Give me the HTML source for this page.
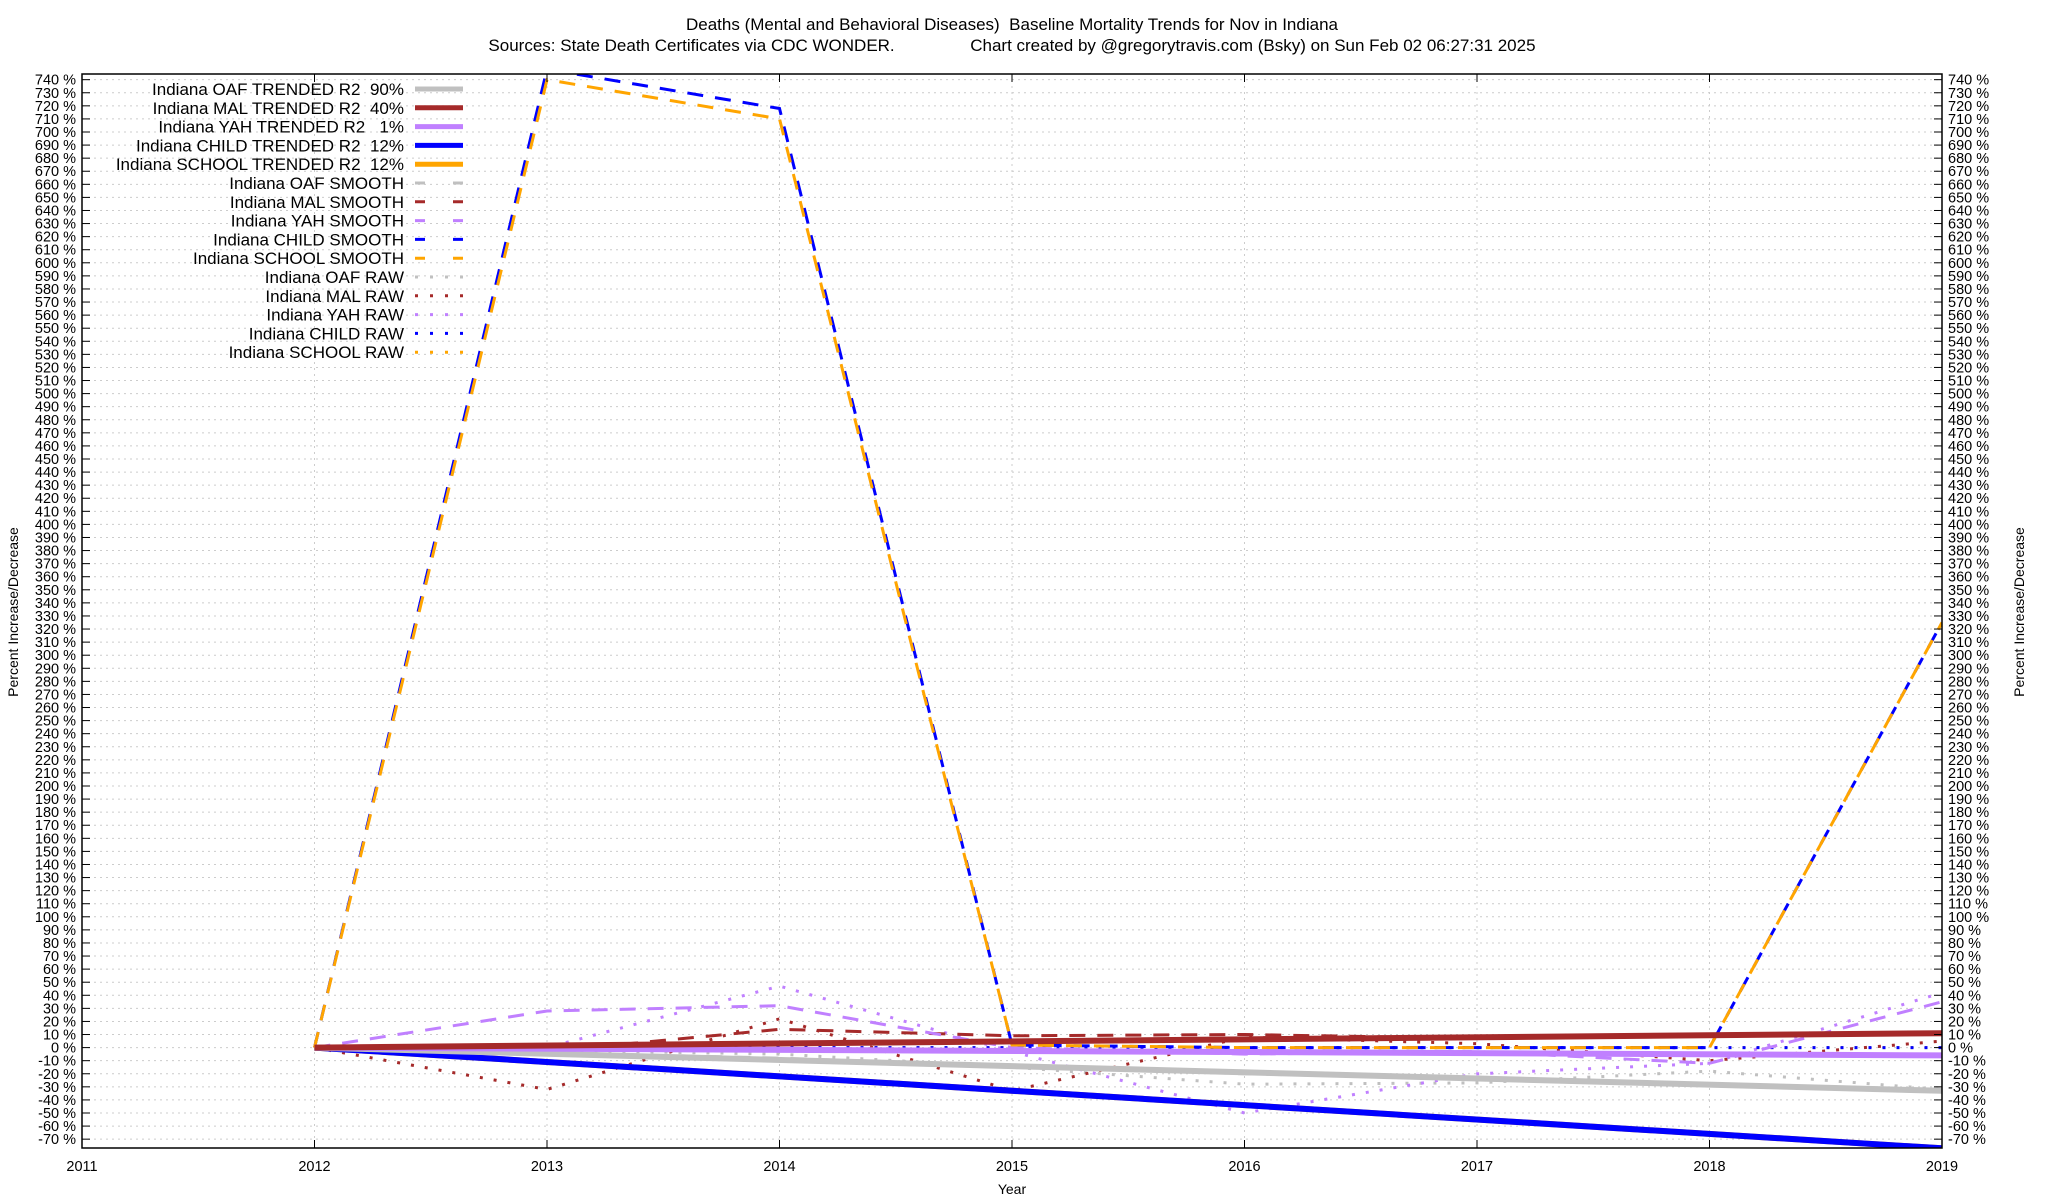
<!DOCTYPE html>
<html><head><meta charset="utf-8"><style>
body{margin:0;background:#fff;}
svg{display:block;font-family:"Liberation Sans",sans-serif;}
text{white-space:pre;}
</style></head><body>
<svg id="chart" width="2048" height="1200">
<text x="1012" y="30" font-size="17" text-anchor="middle">Deaths (Mental and Behavioral Diseases)  Baseline Mortality Trends for Nov in Indiana</text>
<text x="1012" y="51" font-size="17" text-anchor="middle">Sources: State Death Certificates via CDC WONDER.                Chart created by @gregorytravis.com (Bsky) on Sun Feb 02 06:27:31 2025</text>
<text transform="translate(18,612) rotate(-90)" font-size="14" text-anchor="middle">Percent Increase/Decrease</text>
<text transform="translate(2024,612) rotate(-90)" font-size="14" text-anchor="middle">Percent Increase/Decrease</text>
<text x="1012" y="1194" font-size="14" text-anchor="middle">Year</text>
<g id="grid"></g><g id="series"></g><g id="axes"></g><g id="legend"></g>
</svg>
<script>
const years = [2012,2013,2014,2015,2016,2017,2018,2019];
const xTicks = [2011,2012,2013,2014,2015,2016,2017,2018,2019];
const childSmooth = [0,748,718,2,0,0,0,325];
const schoolSmooth = [0,740,710,2,0,0,0,325];
const oafSmooth = [0,-4,-8,-14,-20,-24,-28,-32];
const malSmooth = [0,-3,14,9,10,7,9,11];
const yahSmooth = [0,28,32,0,-5,-3,-12,35];
const oafRaw = [0,-2,-5,-15,-28,-27,-18,-32];
const malRaw = [0,-32,22,-33,8,3,-10,5];
const yahRaw = [0,0,47,-3,-50,-20,-12,42];
const childRaw = [0,0,0,0,0,0,0,0];
const schoolRaw = [0,0,0,0,0,0,0,0];
const oafTrend = [0,-33];
const malTrend = [0,11];
const yahTrend = [0,-6];
const childTrend = [0,-77];
const schoolTrend = [0,-77];
const trendYears = [2012,2019];

const NS="http://www.w3.org/2000/svg";
const L=82,R=1942,T=74,B=1148;
function X(y){return L+(y-2011)*(R-L)/8;}
function Y(v){return 1047.6-v*1.308;}
function mk(tag,attrs,parent){const e=document.createElementNS(NS,tag);for(const k in attrs)e.setAttribute(k,attrs[k]);parent.appendChild(e);return e;}
const grid=document.getElementById('grid'),axes=document.getElementById('axes'),ser=document.getElementById('series'),leg=document.getElementById('legend');
for(let v=-70;v<=740;v+=10){
  const y=Y(v);
  const g=mk('line',{x1:L,x2:R,y1:y,y2:y,stroke:'#ccc','stroke-width':1,'stroke-dasharray':'2,4'},grid);
  
  
  mk('line',{x1:L,x2:L+8,y1:y,y2:y,stroke:'#000'},axes);
  mk('line',{x1:R-8,x2:R,y1:y,y2:y,stroke:'#000'},axes);
  const t1=mk('text',{x:L-6,y:y+5,'font-size':14.5,'text-anchor':'end'},axes);t1.textContent=v+' %';
  
  
  const t2=mk('text',{x:R+6,y:y+5,'font-size':14.5},axes);t2.textContent=v+' %';
  
  
}
xTicks.forEach(yr=>{
  const x=X(yr);
  mk('line',{x1:x,x2:x,y1:T,y2:B,stroke:'#ccc','stroke-dasharray':'2,4'},grid);
  mk('line',{x1:x,x2:x,y1:B,y2:B-8,stroke:'#000'},axes);
  mk('line',{x1:x,x2:x,y1:T,y2:T+8,stroke:'#000'},axes);
  const t=mk('text',{x:x,y:1171,'font-size':14.5,'text-anchor':'middle'},axes);t.textContent=yr;
  
  
});
const fr=mk('rect',{x:L,y:T,width:R-L,height:B-T,fill:'none',stroke:'#000','stroke-width':1.5},axes);


const clip=mk('clipPath',{id:'pc'},document.getElementById('chart'));
mk('rect',{x:L,y:T,width:R-L,height:B-T},clip);
ser.setAttribute('clip-path','url(#pc)');
const styles={
 trend:{w:6,dash:null},smooth:{w:3,dash:'16,12'},raw:{w:3,dash:'3,11'}
};
const COL={oaf:'#c0c0c0',mal:'#a52a2a',yah:'#c080ff',child:'#0000ff',school:'#ffa500'};
function draw(xs,vals,col,kind,name){
  const pts=xs.map((x,i)=>X(x).toFixed(1)+','+Y(vals[i]).toFixed(1)).join(' ');
  const a={points:pts,fill:'none',stroke:col,'stroke-width':styles[kind].w};
  if(styles[kind].dash)a['stroke-dasharray']=styles[kind].dash;
  const p=mk('polyline',a,ser);
  
  
}
draw(years,oafRaw,COL.oaf,'raw','oaf-raw-line');
draw(years,malRaw,COL.mal,'raw','mal-raw-line');
draw(years,yahRaw,COL.yah,'raw','yah-raw-line');
draw(years,schoolRaw,COL.school,'raw','school-raw-line');
draw(years,childRaw,COL.child,'raw','child-raw-line');
draw(years,oafSmooth,COL.oaf,'smooth','oaf-smooth-line');
draw(years,malSmooth,COL.mal,'smooth','mal-smooth-line');
draw(years,yahSmooth,COL.yah,'smooth','yah-smooth-line');
draw(years,childSmooth,COL.child,'smooth','child-smooth-line');
draw(years,schoolSmooth,COL.school,'smooth','school-smooth-line');
draw(trendYears,schoolTrend,COL.school,'trend','school-trend-line');
draw(trendYears,childTrend,COL.child,'trend','child-trend-line');
draw(trendYears,oafTrend,COL.oaf,'trend','oaf-trend-line');
draw(trendYears,yahTrend,COL.yah,'trend','yah-trend-line');
draw(trendYears,malTrend,COL.mal,'trend','mal-trend-line');
const legendLabels=['Indiana OAF TRENDED R2  90%','Indiana MAL TRENDED R2  40%','Indiana YAH TRENDED R2   1%','Indiana CHILD TRENDED R2  12%','Indiana SCHOOL TRENDED R2  12%','Indiana OAF SMOOTH','Indiana MAL SMOOTH','Indiana YAH SMOOTH','Indiana CHILD SMOOTH','Indiana SCHOOL SMOOTH','Indiana OAF RAW','Indiana MAL RAW','Indiana YAH RAW','Indiana CHILD RAW','Indiana SCHOOL RAW'];
const keys=['oaf','mal','yah','child','school'];
legendLabels.forEach((lab,i)=>{
  const y=89+i*18.8;
  const kind=i<5?'trend':(i<10?'smooth':'raw');
  const col=COL[keys[i%5]];
  const t=mk('text',{x:404,y:y+6,'font-size':17,'text-anchor':'end'},leg);t.textContent=lab;
  
  
  const a={x1:415,x2:463,y1:y,y2:y,stroke:col,'stroke-width':i<5?5:3};
  if(kind==='smooth')a['stroke-dasharray']='10,28';
  if(kind==='raw')a['stroke-dasharray']='3,12';
  const ln=mk('line',a,leg);
  
  
});
</script>
</body></html>
